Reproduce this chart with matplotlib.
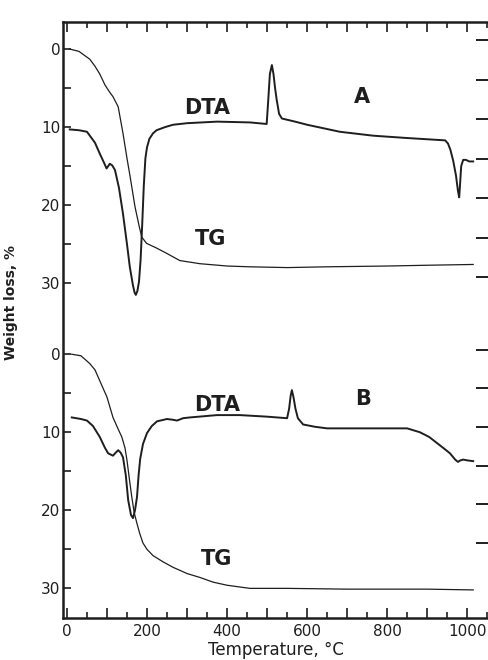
import numpy as np
import matplotlib
matplotlib.use('Agg')
import matplotlib.pyplot as plt

# --- curve A (upper) ---
tg_a_t = [7, 30, 57, 70, 82, 95, 105, 115, 128, 140, 150, 158, 170, 180, 187, 199, 224, 250, 282, 332, 400, 457, 550, 650, 800, 900, 1015]
tg_a_v = [0, 0.3, 1.3, 2.2, 3.2, 4.6, 5.4, 6.1, 7.4, 10.8, 14.0, 16.4, 20.2, 22.6, 24.1, 24.9, 25.5, 26.2, 27.1, 27.5, 27.8, 27.9, 28.0, 27.9, 27.8, 27.7, 27.6]

dta_a_t = [7, 30, 50, 70, 82, 92, 99, 107, 113, 120, 130, 140, 150, 157, 165, 169, 172, 176, 180, 184, 188, 192, 196, 200, 206, 215, 224, 245,
           265, 300, 375, 457, 499, 503, 507, 512, 516, 520, 524, 530, 537, 570, 600, 682, 765, 850, 945, 952, 958, 965, 972, 977, 980, 982,
           985, 990, 997, 1005, 1015]
dta_a_v = [10.3, 10.4, 10.6, 12.0, 13.4, 14.5, 15.3, 14.7, 14.9, 15.5, 17.8, 21.1, 25.0, 27.9, 30.3, 31.2, 31.5, 31.0, 29.8, 27.0, 22.5, 17.5,
           14.0, 12.6, 11.5, 10.8, 10.4, 10.0, 9.7, 9.5, 9.3, 9.4, 9.6, 6.5, 3.2, 2.05, 3.2, 5.0, 6.5, 8.3, 8.9, 9.3, 9.7, 10.6, 11.1, 11.4,
           11.7, 12.1, 12.9, 14.3, 16.2, 18.2, 19.0, 17.5, 15.0, 14.2, 14.2, 14.4, 14.4]

# --- curve B (lower) ---
tg_b_t = [12, 35, 57, 70, 82, 100, 115, 128, 137, 145, 150, 156, 162, 168, 175, 182, 190, 200, 215, 240, 265, 300, 332, 365, 400, 457, 550, 700, 900, 1015]
tg_b_v = [0, 0.2, 1.2, 2.0, 3.4, 5.5, 8.1, 9.6, 10.6, 12.0, 13.6, 16.0, 18.3, 20.3, 21.7, 23.0, 24.2, 25.0, 25.8, 26.6, 27.3, 28.1, 28.6, 29.2, 29.6, 30.0, 30.0, 30.1, 30.1, 30.2]

dta_b_t = [12, 35, 50, 65, 82, 95, 103, 115, 122, 128, 134, 140, 147, 153, 160, 165, 170, 175, 179, 183, 190, 200, 212, 225, 250, 265, 275, 290,
           307, 375, 432, 500, 550, 555, 559, 562, 566, 571, 577, 590, 620, 650, 765, 850, 882, 905, 925, 945, 957, 970, 977, 983, 990, 1000, 1015]
dta_b_v = [8.1, 8.3, 8.5, 9.2, 10.6, 12.0, 12.7, 13.0, 12.6, 12.3, 12.6, 13.2, 15.5, 18.7, 20.6, 21.0, 20.0, 18.3, 15.5, 13.4, 11.5, 10.1, 9.2,
           8.6, 8.3, 8.4, 8.5, 8.2, 8.1, 7.8, 7.8, 8.0, 8.2, 7.0, 5.3, 4.6, 5.5, 7.0, 8.2, 9.0, 9.3, 9.5, 9.5, 9.5, 10.0, 10.6, 11.4, 12.2, 12.7,
           13.5, 13.8, 13.6, 13.5, 13.6, 13.7]

left_labels = ['0', '10', '20', '30']
x_labels = ['0', '', '200', '', '400', '', '600', '', '800', '', '1000']

OFF = 39.1  # vertical offset of the lower panel
ink = '#1e1e1e'

plt.rcParams['font.family'] = 'DejaVu Sans'

fig = plt.figure(figsize=(4.88, 6.6), dpi=100)
ax = fig.add_axes([0.129, 0.0636, 0.871, 0.903])

ax.plot(tg_a_t, tg_a_v, color=ink, lw=0.9)
ax.plot(dta_a_t, dta_a_v, color=ink, lw=1.4)
ax.plot(tg_b_t, np.array(tg_b_v) + OFF, color=ink, lw=0.9)
ax.plot(dta_b_t, np.array(dta_b_v) + OFF, color=ink, lw=1.4)

ax.set_xlim(-10, 1052)
ax.set_ylim(72.9, -3.46)

# left axis: two stacked scales
major = [0, 10, 20, 30]
ax.set_yticks(major + [m + OFF for m in major])
ax.set_yticklabels(left_labels + left_labels)
ax.set_yticks([5, 15, 25, 5 + OFF, 15 + OFF, 25 + OFF], minor=True)

ax.set_xticks(np.arange(0, 1001, 100))
ax.set_xticklabels(x_labels)
ax.set_xticks(np.arange(50, 1051, 100), minor=True)

ax.tick_params(axis='both', which='both', direction='in', width=1.2, colors=ink, labelsize=11)
ax.tick_params(axis='y', which='both', length=6, pad=2)
ax.tick_params(axis='x', which='major', length=7, pad=4, top=True)
ax.tick_params(axis='x', which='minor', length=4, top=True)

for s in ['left', 'top', 'bottom']:
    ax.spines[s].set_linewidth(1.8)
    ax.spines[s].set_color(ink)
ax.spines['right'].set_visible(False)

# right axis (DTA scale, unlabeled)
ax2 = ax.twinx()
ax2.set_ylim(ax.get_ylim())
ax2.set_yticks(list(np.arange(-1.15, 30, 5.07)) + list(np.arange(38.5, 64, 4.96)))
ax2.tick_params(axis='y', direction='in', length=9, width=1.4, colors=ink, labelright=False)
for s in ax2.spines.values():
    s.set_visible(False)

ax.set_xlabel('Temperature, \u00b0C', fontsize=12, color=ink, labelpad=2)
ax.set_ylabel('Weight loss, %', fontsize=10, fontweight='bold', color=ink)
ax.yaxis.set_label_coords(-0.106, 0.53)

txt = dict(fontsize=15, fontweight='bold', color=ink, ha='center', va='center')
ax.text(350, 7.6, 'DTA', **txt)
ax.text(737, 6.2, 'A', **txt)
ax.text(360, 24.4, 'TG', **txt)
ax.text(375, 45.6, 'DTA', **txt)
ax.text(740, 44.9, 'B', **txt)
ax.text(375, 65.4, 'TG', **txt)

fig.savefig('out.png', dpi=100)
